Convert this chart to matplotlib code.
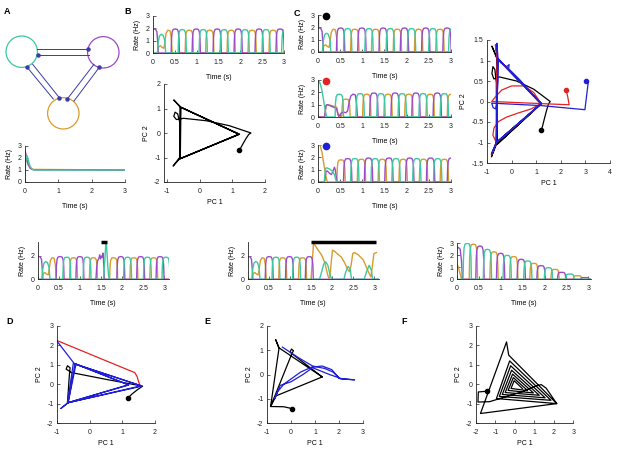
import numpy as np
import matplotlib
matplotlib.use("Agg")
import matplotlib.pyplot as plt
from matplotlib.patches import Circle

plt.rcParams['font.family'] = ['Liberation Sans', 'DejaVu Sans']
plt.rcParams['axes.unicode_minus'] = False

W, H = 617, 449

PURPLE = "#9b4bc8"
GREEN = "#3cc8a0"
ORANGE = "#d99b2d"
NET_BLUE = "#3a3aa8"
PC_BLUE = "#1f1fd6"
PC_RED = "#e52222"

# arch template for one burst, half width in seconds
ARCH_U = [-1.0, -0.9, -0.75, -0.5, 0.0, 0.5, 0.75, 0.9, 1.0]
ARCH_V = [0.0, 0.6, 0.88, 0.98, 1.0, 0.98, 0.88, 0.6, 0.0]
HALF_W = 0.095

# ---- panel A, rate decay to fixed point
A_P = [(0, 2.6), (0.03, 2.3), (0.08, 1.6), (0.15, 1.15), (0.25, 1.02), (3.0, 1.0)]
A_O = [(0, 2.0), (0.05, 1.8), (0.1, 1.4), (0.2, 1.05), (3.0, 1.0)]
A_G = [(0, 0.3), (0.02, 1.8), (0.06, 2.2), (0.1, 1.8), (0.15, 1.3), (0.22, 1.05), (0.3, 1.0), (3.0, 1.0)]

# ---- panel B (and C, black dot) rate traces
B_P = [(0, 1.95), (0.06, 1.93), (0.09, 1.7), (0.11, 0.8), (0.12, 0)]
B_G = [(0, 0), (0.1, 0), (0.12, 0.9), (0.15, 1.4), (0.19, 1.52), (0.23, 1.45), (0.27, 1.0), (0.29, 0)]
B_O = [(0, 0), (0.1, 0), (0.13, 0.5), (0.17, 0.58), (0.21, 0.45), (0.25, 0.38), (0.27, 0.8),
       (0.3, 1.6), (0.34, 1.85), (0.39, 1.8), (0.42, 1.2), (0.44, 0)]
B_PEAKS = [(0.51, 1.95, 'P'), (0.67, 1.9, 'G'), (0.83, 1.85, 'O'), (0.99, 1.95, 'P'),
           (1.15, 1.9, 'G'), (1.30, 1.85, 'O'), (1.47, 1.95, 'P'), (1.63, 1.9, 'G'),
           (1.79, 1.85, 'O'), (1.95, 1.95, 'P'), (2.11, 1.9, 'G'), (2.27, 1.85, 'O'),
           (2.43, 1.95, 'P'), (2.59, 1.9, 'G'), (2.75, 1.85, 'O'), (2.91, 1.95, 'P'),
           (3.04, 1.9, 'G')]

# ---- panel C, red dot
C2_G = [(0, 3.0), (0.04, 2.8), (0.08, 2.3), (0.12, 1.5), (0.16, 0.6), (0.19, 0.1), (0.21, 0)]
C2_P = [(0, 0), (0.15, 0), (0.18, 0.95), (0.21, 1.0), (0.27, 0.92), (0.33, 0.82), (0.38, 0.75),
        (0.42, 0.68), (0.45, 0.2), (0.47, 0.05), (0.52, 0.3), (0.57, 0.4), (0.63, 0.35),
        (0.67, 0.5), (0.7, 1.2), (0.74, 1.7), (0.79, 1.85), (0.84, 1.8), (0.87, 1.1), (0.89, 0)]
C2_O = [(0, 0), (0.15, 0), (0.18, 0.9), (0.21, 1.0), (0.28, 0.95), (0.35, 0.88), (0.42, 0.8),
        (0.45, 0.3), (0.47, 0)]
C2_PEAKS = [(0.48, 1.85, 'G'), (0.63, 1.45, 'O'), (0.95, 1.9, 'G'), (1.10, 1.85, 'O'),
            (1.26, 1.95, 'P'), (1.42, 1.9, 'G'), (1.58, 1.85, 'O'), (1.74, 1.95, 'P'),
            (1.90, 1.9, 'G'), (2.05, 1.85, 'O'), (2.21, 1.95, 'P'), (2.37, 1.9, 'G'),
            (2.53, 1.85, 'O'), (2.69, 1.95, 'P'), (2.85, 1.9, 'G'), (3.01, 1.85, 'O')]

# ---- panel C, blue dot
C3_O = [(0, 3.0), (0.05, 2.95), (0.09, 2.4), (0.13, 1.5), (0.17, 0.6), (0.2, 0.1), (0.22, 0)]
C3_G = [(0, 0), (0.14, 0), (0.17, 1.1), (0.2, 1.15), (0.26, 1.05), (0.32, 0.9), (0.37, 0.6),
        (0.4, 0.2), (0.42, 0)]
C3_P = [(0, 0), (0.15, 0), (0.18, 0.85), (0.21, 0.9), (0.26, 0.7), (0.3, 0.6), (0.34, 0.9),
        (0.37, 1.2), (0.39, 1.0), (0.42, 0.2), (0.43, 0)]
C3_PEAKS = [(0.52, 1.8, 'O'), (0.67, 1.9, 'P'), (0.83, 1.9, 'G'), (0.98, 1.85, 'O'),
            (1.14, 1.95, 'P'), (1.29, 1.9, 'G'), (1.45, 1.85, 'O'), (1.60, 1.95, 'P'),
            (1.76, 1.9, 'G'), (1.92, 1.85, 'O'), (2.07, 1.95, 'P'), (2.23, 1.9, 'G'),
            (2.38, 1.85, 'O'), (2.54, 1.95, 'P'), (2.70, 1.9, 'G'), (2.85, 1.85, 'O'),
            (3.01, 1.95, 'P')]

# ---- panel D, brief pulse at 1.5 s
D_P_PULSE = [(1.38, 0), (1.4, 1.1), (1.42, 1.6), (1.45, 1.8), (1.47, 2.1), (1.49, 1.75),
             (1.51, 2.0), (1.53, 1.9), (1.55, 2.25), (1.57, 1.0), (1.58, 0)]
D_G_SPIKE = [(1.56, 0), (1.59, 1.6), (1.61, 2.8), (1.625, 3.1), (1.64, 2.4), (1.66, 1.2),
             (1.68, 0.3), (1.7, 0)]
D_PEAKS = [(0.53, 1.95, 'P'), (0.69, 1.9, 'G'), (0.85, 1.85, 'O'), (1.00, 1.95, 'P'),
           (1.17, 1.9, 'G'), (1.32, 1.85, 'O'), (1.80, 1.85, 'O'), (1.97, 1.95, 'P'),
           (2.13, 1.9, 'G'), (2.28, 1.85, 'O'), (2.44, 1.95, 'P'), (2.60, 1.9, 'G'),
           (2.75, 1.85, 'O'), (2.90, 1.95, 'P'), (3.04, 1.9, 'G')]
D_BAR = [1.49, 1.65]

# ---- panel E, sustained input from 1.5 s
E_PEAKS = [(0.51, 1.95, 'P'), (0.67, 1.9, 'G'), (0.83, 1.85, 'O'), (0.99, 1.95, 'P'),
           (1.16, 1.9, 'G'), (1.30, 1.85, 'O'), (1.46, 1.95, 'P')]
E_O_TAIL = [(1.5, 0), (1.53, 1.5), (1.56, 3.05), (1.6, 2.9), (1.67, 2.5), (1.75, 2.1),
            (1.83, 1.4), (1.88, 0.6), (1.92, 0.1), (1.95, 0.2), (1.98, 1.5), (2.01, 2.5),
            (2.06, 2.4), (2.12, 2.2), (2.22, 1.9), (2.3, 1.4), (2.36, 0.9), (2.41, 0.65),
            (2.45, 1.2), (2.49, 2.2), (2.53, 2.3), (2.62, 2.1), (2.74, 1.66), (2.84, 0.8),
            (2.88, 0.5), (2.92, 0.2), (2.95, 1.0), (2.99, 2.2), (3.05, 2.3)]
E_G_TAIL = [(1.7, 0), (1.75, 0.6), (1.8, 1.3), (1.85, 1.5), (1.9, 1.2), (1.95, 0.4),
            (1.99, 0), (2.28, 0), (2.32, 0.6), (2.38, 1.1), (2.43, 0.9), (2.46, 0),
            (2.76, 0), (2.82, 0.7), (2.88, 1.2), (2.93, 0.8), (2.96, 0)]
E_BAR = [1.5, 3.05]

# ---- panel F, decaying oscillation
F_P = [(0, 2.6), (0.04, 2.65), (0.08, 2.5), (0.11, 1.5), (0.13, 0)]
F_O = [(0, 1.25), (0.03, 1.1), (0.06, 0.7), (0.09, 0.3), (0.11, 0)]
F_PEAKS = [(0.24, 3.0, 'G'), (0.38, 2.94, 'O'), (0.53, 2.78, 'P'), (0.70, 2.5, 'G'),
           (0.85, 2.3, 'O'), (1.00, 2.17, 'P'), (1.15, 2.0, 'G'), (1.30, 1.9, 'O'),
           (1.47, 1.67, 'P'), (1.62, 1.53, 'G'), (1.76, 1.33, 'O'), (1.92, 1.14, 'P'),
           (2.09, 0.97, 'G'), (2.24, 0.83, 'O'), (2.39, 0.58, 'P'), (2.58, 0.44, 'G'),
           (2.75, 0.3, 'O'), (2.92, 0.14, 'P')]

# ---- PC trajectories
BLACK_BC = [(1.2, -0.7), (1.25, -0.62), (1.32, -0.45), (1.42, -0.22), (1.5, -0.06), (1.57, 0.0),
            (0.9, 0.3), (0.2, 0.5), (-0.5, 0.6), (-0.72, 0.55), (-0.8, 0.68), (-0.76, 0.85),
            (-0.68, 0.78), (-0.62, 0.45), (-0.62, -1.0), (-0.82, -1.35), (-0.62, -1.05),
            (1.2, -0.05), (-0.58, 1.05), (-0.8, 1.35), (-0.6, 1.05), (-0.6, -1.05),
            (1.22, -0.05), (-0.58, 1.05), (-0.6, -1.05), (1.2, -0.05), (-0.6, 1.06),
            (-0.61, -1.04)]
RED_C = [(2.22, 0.27), (2.28, 0.12), (2.34, -0.08), (-0.81, 0.0), (-0.65, 0.12), (-0.4, 0.28),
         (0.0, 0.38), (0.5, 0.38), (0.9, 0.22), (1.2, -0.05), (0.8, -0.18), (0.27, -0.28),
         (-0.2, -0.38), (-0.54, -0.49), (-0.72, -0.65), (-0.76, -0.82), (-0.62, -1.0),
         (-0.82, -1.3), (-0.62, -1.0), (-0.58, 1.05), (-0.66, 1.38), (-0.58, 1.05),
         (1.2, -0.06), (-0.62, -1.0), (-0.58, 1.05), (1.2, -0.06), (-0.62, -1.0)]
BLUE_C = [(3.02, 0.49), (3.12, 0.49), (2.98, -0.2), (1.2, -0.1), (-0.81, -0.04), (-0.75, -0.15),
          (-0.65, -0.18), (-0.6, -0.05), (-0.56, 0.5), (-0.58, 1.0), (-0.6, 1.42), (-0.55, 1.05),
          (-0.45, 0.95), (-0.2, 0.85), (-0.1, 0.9), (-0.12, 0.8), (0.3, 0.55), (1.2, -0.05),
          (-0.62, -1.0), (-0.82, -1.28), (-0.62, -1.0), (-0.55, 1.05), (1.2, -0.06),
          (-0.62, -1.0), (-0.56, 1.05), (1.2, -0.05), (-0.62, -1.0)]

BLACK_D = [(1.18, -0.7), (1.3, -0.5), (1.45, -0.3), (1.62, -0.1), (0.5, 0.25), (-0.56, 0.6),
           (-0.72, 0.78), (-0.68, 0.95), (-0.6, 0.85), (-0.62, 0.5), (-0.68, -0.95)]
RED_D = [(1.55, -0.08), (1.5, 0.12), (1.45, 0.4), (1.38, 0.6), (1.2, 0.72), (-1.0, 2.25)]
BLUE_D = [(-1.0, 2.22), (-0.48, 1.08), (1.18, -0.03), (-0.66, -0.95), (-0.88, -1.25),
          (-0.66, -0.95), (-0.45, 1.05), (1.6, -0.1), (-0.68, -0.96), (-0.5, 1.08),
          (1.2, -0.04), (-0.66, -0.95), (-0.42, 1.02), (1.58, -0.08), (-0.67, -0.96)]

BLACK_E = [(0.06, -1.41), (-0.3, -1.33), (-0.85, -1.32), (-0.5, 1.08), (-0.64, 1.44),
           (-0.5, 1.1), (1.3, -0.1), (-0.62, -0.88), (-0.85, -1.32), (0.02, 0.82),
           (0.1, 0.98), (0.02, 1.05), (-0.04, 0.92), (1.3, -0.1)]
BLUE_E = [(-0.36, 1.13), (0.3, 0.7), (0.9, 0.35), (1.4, 0.25), (1.75, 0.1), (2.05, -0.18),
          (2.65, -0.22), (2.1, -0.17), (1.6, 0.0), (1.1, 0.2), (0.9, 0.28), (0.5, 0.0),
          (0.0, -0.3), (-0.45, -0.45), (-0.58, -0.75), (-0.68, -1.0), (-0.55, -0.7),
          (-0.3, -0.4), (0.4, 0.1), (0.85, 0.3), (1.3, 0.35), (1.7, 0.2), (2.0, -0.15)]

F_START = [(-1.41, -0.36), (-1.88, -0.4), (-1.9, -0.92), (-1.3, -0.9), (0.4, -0.38),
           (1.0, -0.12), (1.35, -0.02), (1.6, -0.2), (2.15, -1.0), (-1.77, -1.51),
           (-0.43, 2.18)]
F_TOP = [(-0.32, 1.5), (-0.27, 1.2), (-0.22, 0.95), (-0.17, 0.72), (-0.12, 0.52), (-0.08, 0.34), (-0.04, 0.18)]
F_RIGHT = [(2.15, -1.0), (1.85, -0.83), (1.55, -0.7), (1.25, -0.57), (0.95, -0.45), (0.65, -0.33), (0.38, -0.22)]
F_LEFT = [(-1.1, -0.85), (-0.95, -0.74), (-0.8, -0.63), (-0.65, -0.53), (-0.5, -0.43), (-0.35, -0.32), (-0.2, -0.22)]

COLORS = {'P': PURPLE, 'G': GREEN, 'O': ORANGE}

# network diagram: circle centres (px) and links (start, end, synapse dot)
NODES = [((21.7, 51.7), GREEN), ((103.3, 52.3), PURPLE), ((63.3, 113.3), ORANGE)]
LINKS = [((36.7, 49), (88.3, 49), (88.3, 49)), ((38.3, 55), (89.3, 55), (38.3, 55)),
         ((26.7, 66.7), (53.3, 99), (26.7, 66.7)), ((32.7, 64.3), (59.3, 97.7), (59.3, 97.7)),
         ((99.3, 67.3), (74, 101), (99.3, 67.3)), ((94, 64.3), (67.3, 99), (67.3, 99))]


def build_trace(points, peaks, name):
    pts = list(points)
    for c, h, s in peaks:
        if s == name:
            pts += [(c + HALF_W * u, h * v) for u, v in zip(ARCH_U, ARCH_V)]
    pts.sort(key=lambda p: p[0])
    if pts[0][0] > 0:
        pts.insert(0, (-0.5, 0.0))
    if pts[-1][1] == 0:
        pts.append((3.5, 0.0))
    t, v = zip(*pts)
    return np.array(t), np.array(v)


fig = plt.figure(figsize=(W / 100, H / 100), dpi=100)


def px_axes(l, t, r, b):
    return fig.add_axes([l / W, 1 - b / H, (r - l) / W, (b - t) / H])


def style(ax):
    for s in ('top', 'right'):
        ax.spines[s].set_visible(False)
    for s in ('left', 'bottom'):
        ax.spines[s].set_linewidth(0.6)
        ax.spines[s].set_color('#222222')
    ax.tick_params(direction='in', length=2, width=0.5, labelsize=5, colors='#222222')
    ax.tick_params(axis='x', pad=4)
    ax.tick_params(axis='y', pad=2.5)


def rate_axes(l, t, r, b, series, peaks, xmax=3.0, ymax=3.0, yticks=(0, 1, 2, 3)):
    ax = px_axes(l, t, r, b)
    style(ax)
    for name in ('O', 'P', 'G'):
        tt, vv = build_trace(series[name], peaks, name)
        ax.plot(tt, vv, color=COLORS[name], lw=1.0)
    ax.set_xlim(0, xmax)
    ax.set_ylim(0, ymax)
    ax.set_xticks([0, 0.5, 1, 1.5, 2, 2.5, 3])
    ax.set_xticklabels(['0', '0.5', '1', '1.5', '2', '2.5', '3'])
    ax.set_yticks(list(yticks))
    ax.set_xlabel('Time (s)', fontsize=5, labelpad=6)
    ax.set_ylabel('Rate (Hz)', fontsize=5, labelpad=3)
    return ax


def pc_axes(l, t, r, b, xlim, ylim, xticks, yticks, paths, start_dot):
    ax = px_axes(l, t, r, b)
    style(ax)
    for path, color in paths:
        x, y = zip(*path)
        ax.plot(x, y, color=color, lw=0.9, solid_joinstyle='round')
    for path, color in start_dot:
        ax.plot(*path[0], 'o', color=color, ms=3)
    ax.set_xlim(*xlim)
    ax.set_ylim(*ylim)
    ax.set_xticks(xticks)
    ax.set_yticks(yticks)
    ax.set_xlabel('PC 1', fontsize=5, labelpad=3.5)
    ax.set_ylabel('PC 2', fontsize=5, labelpad=3)
    return ax


# ---- A: network diagram
axn = px_axes(0, 0, 125, 135)
axn.set_xlim(0, 125)
axn.set_ylim(135, 0)
axn.axis('off')
for (cx, cy), col in NODES:
    axn.add_patch(Circle((cx, cy), 15.7, fill=False, ec=col, lw=0.9))
for p0, p1, dot in LINKS:
    axn.plot([p0[0], p1[0]], [p0[1], p1[1]], color=NET_BLUE, lw=0.7)
    axn.plot(*dot, 'o', color=NET_BLUE, ms=2.2)

axA = rate_axes(25, 146, 125, 182, {'P': A_P, 'G': A_G, 'O': A_O}, [])
axA.set_xticks([0, 1, 2, 3])
axA.set_xticklabels(['0', '1', '2', '3'])

# ---- B
b_paths = [(BLACK_BC, 'black')]
pc_axes(164, 84, 265, 182, (-1.1, 2), (-2, 2), [-1, 0, 1, 2], [-2, -1, 0, 1, 2],
        b_paths, b_paths)
rate_axes(153, 16, 284, 53, {'P': B_P, 'G': B_G, 'O': B_O}, B_PEAKS)

# ---- C
c_sets = [(15, 52, {'P': B_P, 'G': B_G, 'O': B_O}, B_PEAKS, 'black'),
          (80, 117, {'P': C2_P, 'G': C2_G, 'O': C2_O}, C2_PEAKS, PC_RED),
          (145, 182, {'P': C3_P, 'G': C3_G, 'O': C3_O}, C3_PEAKS, PC_BLUE)]
for top, bot, ser, pk, dcol in c_sets:
    ax = rate_axes(318, top, 451, bot, ser, pk)
    ax.plot(0.18, 2.95, 'o', color=dcol, ms=4.5, clip_on=False)
    if dcol == 'black':
        ax.plot([0.01, 0.01], [1.95, 3.0], color='#888888', lw=1.0)
c_paths = [(BLACK_BC, 'black'), (RED_C, PC_RED), (BLUE_C, PC_BLUE)]
axc = pc_axes(487, 40, 610, 163, (-1, 4), (-1.5, 1.5), [-1, 0, 1, 2, 3, 4],
              [-1.5, -1, -0.5, 0, 0.5, 1, 1.5], c_paths, c_paths)
axc.set_yticklabels(['-1.5', '-1', '-0.5', '0', '0.5', '1', '1.5'])

# ---- D
axd = rate_axes(37.7, 242, 168.5, 279.3,
                {'P': B_P + D_P_PULSE, 'G': B_G + D_G_SPIKE, 'O': B_O}, D_PEAKS,
                xmax=3.1, ymax=3.2, yticks=(0, 2))
axd.plot(D_BAR, [3.2, 3.2], color='black', lw=2.5, clip_on=False, solid_capstyle='butt')
pc_axes(57, 326, 155, 423, (-1, 2), (-2, 3), [-1, 0, 1, 2], [-2, -1, 0, 1, 2, 3],
        [(BLACK_D, 'black'), (RED_D, PC_RED), (BLUE_D, PC_BLUE)], [(BLACK_D, 'black')])

# ---- E
axe = rate_axes(247.7, 242, 378.5, 279.3,
                {'P': B_P, 'G': B_G + E_G_TAIL, 'O': B_O + E_O_TAIL}, E_PEAKS,
                xmax=3.1, ymax=3.2, yticks=(0, 2))
axe.plot(E_BAR, [3.2, 3.2], color='black', lw=2.5, clip_on=False, solid_capstyle='butt')
pc_axes(267, 326, 363, 423, (-1, 3), (-2, 2), [-1, 0, 1, 2, 3], [-2, -1, 0, 1, 2],
        [(BLACK_E, 'black'), (BLUE_E, PC_BLUE)], [(BLACK_E, 'black')])

# ---- F
rate_axes(456.7, 243.3, 590.6, 279.3, {'P': F_P, 'G': [], 'O': F_O}, F_PEAKS, xmax=3.05)
f_path = list(F_START)
for k in range(len(F_TOP)):
    f_path += [F_TOP[k], F_RIGHT[k]]
    if k + 1 < len(F_LEFT):
        f_path.append(F_LEFT[k + 1])
pc_axes(476, 326, 573.3, 423, (-2, 3), (-2, 3), [-2, -1, 0, 1, 2, 3],
        [-2, -1, 0, 1, 2, 3], [(f_path, 'black')], [(f_path, 'black')])

# panel letters
for letter, x, y in [('A', 7, 11), ('B', 128, 11), ('C', 297, 13),
                     ('D', 10, 322), ('E', 207, 322), ('F', 404, 322)]:
    fig.text(x / W, 1 - y / H, letter, fontsize=6.5, fontweight='bold',
             ha='center', va='center')

fig.savefig('out.png', dpi=100)
